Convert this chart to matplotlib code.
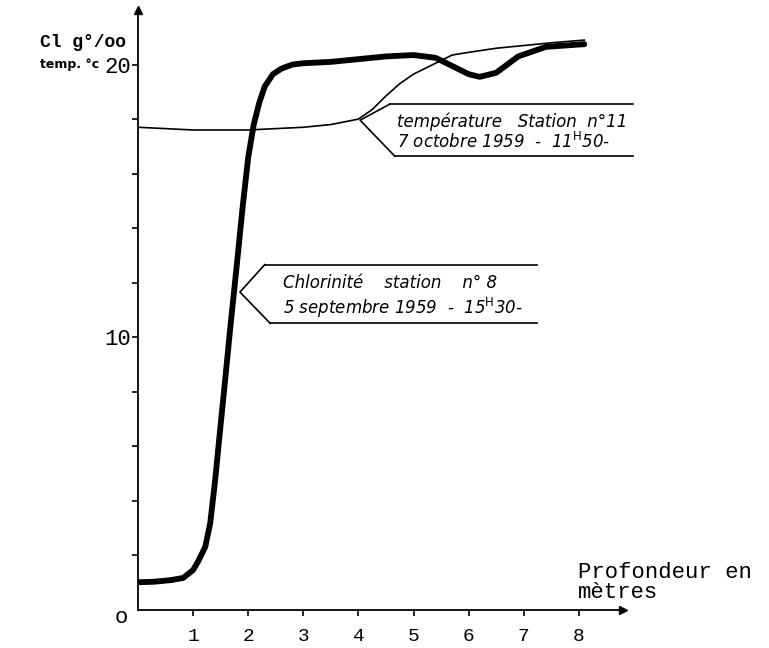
import numpy as np
import matplotlib
matplotlib.use("Agg")
import matplotlib.pyplot as plt

# chlorinité station n°8 (g/oo) en fonction de la profondeur (m)
depth_cl = [0, 0.3, 0.6, 0.82, 1.0, 1.1, 1.22, 1.31, 1.4, 1.49, 1.58, 1.67, 1.78,
            1.9, 2.0, 2.1, 2.2, 2.3, 2.45, 2.6, 2.8, 3.0, 3.5, 4.0, 4.5, 5.0,
            5.4, 5.7, 6.0, 6.2, 6.5, 6.9, 7.4, 8.1]
cl = [1.0, 1.02, 1.08, 1.16, 1.45, 1.8, 2.3, 3.17, 4.75, 6.6, 8.4, 10.26, 12.4,
      14.8, 16.6, 17.8, 18.6, 19.2, 19.65, 19.85, 20.0, 20.05, 20.1, 20.2, 20.3, 20.35,
      20.25, 19.95, 19.65, 19.55, 19.7, 20.3, 20.65, 20.75]

# température station n°11 (°C)
depth_t = [0, 0.5, 1.0, 1.5, 2.0, 2.5, 3.0, 3.5, 4.0, 4.25, 4.5, 4.75, 5.0,
           5.35, 5.7, 6.0, 6.5, 7.0, 7.5, 8.1]
temp = [17.7, 17.65, 17.6, 17.6, 17.6, 17.65, 17.7, 17.8, 18.0, 18.35, 18.85, 19.3,
        19.65, 20.0, 20.35, 20.45, 20.6, 20.7, 20.8, 20.9]

xticks = [1, 2, 3, 4, 5, 6, 7, 8]
yticks = [2, 4, 6, 8, 10, 12, 14, 16, 18, 20]
ylabels_shown = [10, 20]

mono = "Liberation Mono"

fig = plt.figure(figsize=(7.69, 6.48), dpi=100, facecolor="white")
ax = fig.add_axes([0.1795, 0.0594, 0.6305, 0.925])
ax.set_xlim(0, 8.8)
ax.set_ylim(0, 22)

ax.plot(depth_cl, cl, color="black", lw=4.2, solid_capstyle="round", solid_joinstyle="round")
ax.plot(depth_t, temp, color="black", lw=1.2)

# axes façon croquis
for s in ["top", "right"]:
    ax.spines[s].set_visible(False)
ax.spines["left"].set_linewidth(1.3)
ax.spines["bottom"].set_linewidth(1.3)
ax.plot(1, 0, ">k", ms=6, transform=ax.get_yaxis_transform(), clip_on=False)
ax.plot(0, 1, "^k", ms=6, transform=ax.get_xaxis_transform(), clip_on=False)

ax.set_xticks(xticks)
ax.set_xticklabels([str(v) for v in xticks], fontfamily=mono, fontsize=14)
ax.set_yticks(yticks)
ax.set_yticklabels([str(v) if v in ylabels_shown else "" for v in yticks],
                   fontfamily=mono, fontsize=16)
ax.tick_params(axis="x", direction="out", length=4, width=1.2, pad=9)
ax.tick_params(axis="y", direction="out", length=4, width=1.2, pad=1)
ax.text(-0.3, -0.3, "o", fontsize=16, ha="center", va="center", fontfamily=mono)

# titres
fig.text(0.052, 0.928, "Cl g°/oo", fontsize=13, fontweight="bold", fontfamily=mono)
fig.text(0.052, 0.895, "temp. °c", fontsize=9, fontweight="bold")
fig.text(0.752, 0.132, "Profondeur en\nmètres", fontsize=16, fontfamily=mono,
         linespacing=0.9, va="top")

# étiquette température
kw = dict(color="black", lw=1.2, clip_on=False)
ax.plot([4.57, 8.98], [18.55, 18.55], **kw)
ax.plot([4.66, 8.98], [16.64, 16.64], **kw)
ax.plot([4.57, 4.03, 4.66], [18.55, 17.96, 16.64], **kw)
ax.text(4.7, 17.9, "température   Station  n°11", fontsize=12, style="italic",
        va="center")
ax.text(4.7, 17.15, r"7 octobre 1959  -  11$^{\rm H}$50-", fontsize=12,
        style="italic", va="center")

# étiquette chlorinité
ax.plot([2.30, 7.24], [12.66, 12.66], **kw)
ax.plot([2.40, 7.24], [10.5, 10.5], **kw)
ax.plot([2.30, 1.85, 2.40], [12.66, 11.65, 10.5], **kw)
ax.text(2.63, 12.0, "Chlorinité    station    n° 8", fontsize=12, style="italic",
        va="center")
ax.text(2.63, 11.06, r"5 septembre 1959  -  15$^{\rm H}$30-", fontsize=12,
        style="italic", va="center")

fig.savefig("out.png", dpi=100, facecolor="white")
